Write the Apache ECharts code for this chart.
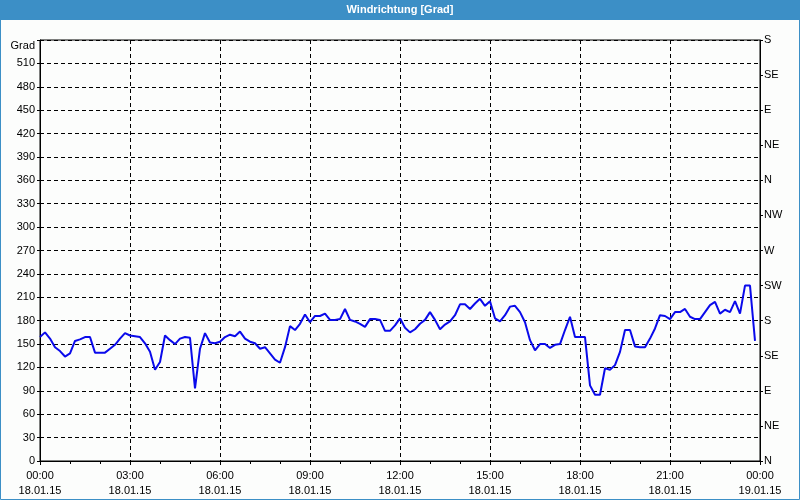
<!DOCTYPE html>
<html lang="de">
<head>
  <meta http-equiv="Content-Type" content="text/html; charset=UTF-8">
  <title>Windrichtung</title>
  <style>
    html, body { margin: 0; padding: 0; background: #fff; }
  </style>
</head>
<body>
  <div id="chart" style="width: 800px; height: 500px;"></div>
  <script src="https://cdn.jsdelivr.net/npm/echarts@6/dist/echarts.min.js"></script>
  <script>
    // Windrichtung in Grad, alle 10 Minuten ab 18.01.15 00:00
    const richtung = [
      159, 165, 157, 146, 141, 134, 138, 154, 156, 159,
      159, 139, 139, 139, 144, 149, 157, 164, 161, 160,
      159, 151, 140, 117, 127, 161, 155, 150, 157, 159,
      158, 93, 144, 164, 152, 151, 153, 159, 162, 160,
      166, 157, 153, 151, 144, 146, 138, 130, 126, 146,
      173, 168, 176, 188, 178, 186, 186, 189, 181, 181,
      182, 195, 181, 179, 176, 172, 182, 182, 181, 167,
      167, 174, 183, 171, 165, 169, 176, 181, 191, 181,
      169, 175, 179, 187, 201, 201, 195, 202, 208, 199,
      205, 183, 179, 187, 198, 199, 191, 178, 155, 142,
      150, 150, 145, 149, 150, 168, 185, 159, 159, 159,
      97, 85, 85, 119, 117, 123, 140, 168, 168, 147,
      146, 146, 157, 170, 187, 186, 182, 191, 191, 195,
      185, 182, 182, 191, 200, 204, 189, 194, 191, 205,
      189, 225, 225, 154
    ];
    const minuten = richtung.map((v, i) => i * 10);
    const himmelsrichtungen = ['N', 'NE', 'E', 'SE', 'S', 'SW', 'W', 'NW', 'N', 'NE', 'E', 'SE', 'S'];
    const datumStart = '18.01.15';
    const datumEnde = '19.01.15';

    const schrift = 'Liberation Sans';
    const pad = n => (n < 10 ? '0' : '') + n;

    const myChart = echarts.init(document.getElementById('chart'));
    const option = {
      animation: false,
      backgroundColor: '#fcfdfc',
      textStyle: { fontFamily: schrift },
      title: {
        text: 'Windrichtung [Grad]',
        left: 'center',
        top: 4,
        padding: 0,
        textStyle: { color: '#fff', fontSize: 11, fontWeight: 'bold', fontFamily: schrift }
      },
      graphic: [
        {
          type: 'rect', z: -1, silent: true,
          shape: { x: 0, y: 0, width: 800, height: 20 },
          style: { fill: '#3c8fc6' }
        },
        {
          type: 'rect', z: -1, silent: true,
          shape: { x: 0.5, y: 0.5, width: 799, height: 499 },
          style: { fill: 'none', stroke: '#3c8fc6', lineWidth: 1 }
        }
      ],
      grid: {
        left: 40, right: 40, top: 40, bottom: 39,
        show: true, borderColor: '#000', borderWidth: 1, backgroundColor: 'transparent'
      },
      xAxis: {
        type: 'value',
        min: 0, max: 1440, interval: 180,
        axisLine: { lineStyle: { color: '#000', width: 1 } },
        axisTick: { length: 4, lineStyle: { color: '#000' } },
        minorTick: { show: true, splitNumber: 3, length: 3, lineStyle: { color: '#000' } },
        splitLine: { show: true, lineStyle: { color: '#000', type: [4, 3], width: 1 } },
        axisLabel: {
          color: '#000', fontSize: 11, lineHeight: 15, margin: 7,
          formatter: v => pad(Math.floor(v / 60) % 24) + ':' + pad(v % 60) + '\n' + (v >= 1440 ? datumEnde : datumStart)
        }
      },
      yAxis: [
        {
          type: 'value',
          min: 0, max: 540, interval: 30,
          axisLine: { show: true, lineStyle: { color: '#000' } },
          axisTick: { show: true, length: 3, lineStyle: { color: '#000' } },
          splitLine: { show: true, lineStyle: { color: '#000', type: [4, 3], width: 1 } },
          axisLabel: {
            color: '#000', fontSize: 11, margin: 5,
            formatter: v => (v === 540 ? '{g|Grad}' : String(v)),
            rich: { g: { fontSize: 11, color: '#000', padding: [12, 0, 0, 0] } }
          }
        },
        {
          type: 'value',
          position: 'right',
          min: 0, max: 540, interval: 45,
          axisLine: { show: true, lineStyle: { color: '#000' } },
          axisTick: { show: true, length: 3, lineStyle: { color: '#000' } },
          splitLine: { show: false },
          axisLabel: {
            color: '#000', fontSize: 11, margin: 4,
            formatter: v => himmelsrichtungen[Math.round(v / 45)]
          }
        }
      ],
      series: [{
        name: 'Windrichtung',
        type: 'line',
        yAxisIndex: 0,
        showSymbol: false,
        lineStyle: { color: '#0a0aeb', width: 2 },
        data: minuten.map((m, i) => [m, richtung[i]])
      }]
    };
    myChart.setOption(option);
  </script>
</body>
</html>
